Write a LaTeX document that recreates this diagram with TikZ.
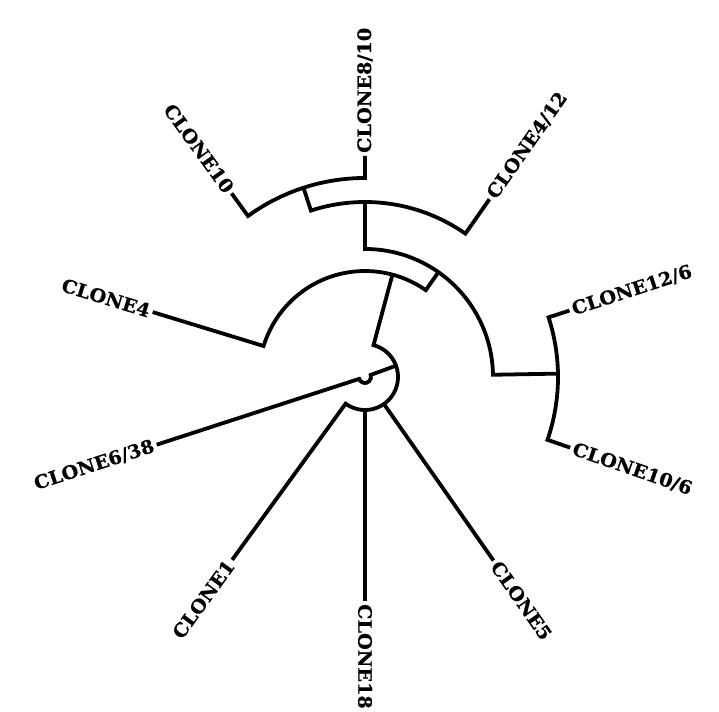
\documentclass[tikz,border=0pt]{standalone}
\usepackage{fontspec}
\usepackage{tikz}

\newfontfamily\lblfont{DejaVu Serif}[FakeStretch=1.04,FakeBold=0.6]
\newcommand{\clonefont}{\lblfont\bfseries\fontsize{18.5}{21}\selectfont}

\tikzset{
  branch/.style={line width=3.8pt, line join=miter},
  lblR/.style={anchor=west, inner sep=3pt, font=\clonefont},
  lblL/.style={anchor=east, inner sep=3pt, font=\clonefont},
}

\begin{document}
\begin{tikzpicture}[x=1pt,y=1pt]
  \useasboundingbox (-365,-334) rectangle (354,377);
  % root and first split
  \coordinate (e638) at (198:219);
  \coordinate (r0a) at (198:6);
  \coordinate (n1) at (20:33);
  \draw[branch] (e638) -- (r0a) arc[start angle=198, end angle=380, radius=6] -- (n1);
  % inner node with the three lower leaves
  \coordinate (n1a) at (75:33);
  \coordinate (n2) at (75:106);
  \coordinate (e1) at (-126:226);
  \coordinate (e18) at (-90:224);
  \coordinate (e5) at (-55:224);
  \draw[branch] (n2) -- (n1a) arc[start angle=75, end angle=-126, radius=33] -- (e1);
  \draw[branch] (-90:33) -- (e18);
  \draw[branch] (-55:33) -- (e5);
  % CLONE4 and the rest
  \coordinate (e4) at (163:222);
  \coordinate (n2a) at (163:106);
  \coordinate (n3) at (55:128);
  \draw[branch] (e4) -- (n2a) arc[start angle=163, end angle=55, radius=106] -- (n3);
  \coordinate (n4) at (90:175);
  \coordinate (n3a) at (90:128);
  \coordinate (n5) at (1:193);
  \draw[branch] (n4) -- (n3a) arc[start angle=90, end angle=1, radius=128] -- (n5);
  % right pair
  \coordinate (e126) at (18:215);
  \coordinate (n5a) at (18:193);
  \coordinate (e106) at (-19:217);
  \draw[branch] (e126) -- (n5a) arc[start angle=18, end angle=-19, radius=193] -- (e106);
  % upper group
  \coordinate (n6) at (108:199);
  \coordinate (n4a) at (108:175);
  \coordinate (e412) at (55:217);
  \draw[branch] (n6) -- (n4a) arc[start angle=108, end angle=55, radius=175] -- (e412);
  \coordinate (e10) at (126:227);
  \coordinate (n6a) at (126:199);
  \coordinate (e810) at (90:221);
  \draw[branch] (e10) -- (n6a) arc[start angle=126, end angle=90, radius=199] -- (e810);
  % labels
  \node[lblR, rotate=90] (l810) at (e810) {CLONE8/10};
  \node[lblR, rotate=55] (l412) at (e412) {CLONE4/12};
  \node[lblR, rotate=18] (l126) at (e126) {CLONE12/6};
  \node[lblR, rotate=-19] (l106) at (e106) {CLONE10/6};
  \node[lblR, rotate=-55] (l5) at (e5) {CLONE5};
  \node[lblR, rotate=-90] (l18) at (e18) {CLONE18};
  \node[lblL, rotate=54] (l1) at (e1) {CLONE1};
  \node[lblL, rotate=18] (l638) at (e638) {CLONE6/38};
  \node[lblL, rotate=-17] (l4) at (e4) {CLONE4};
  \node[lblL, rotate=-54] (l10) at (e10) {CLONE10};
\end{tikzpicture}
\end{document}
